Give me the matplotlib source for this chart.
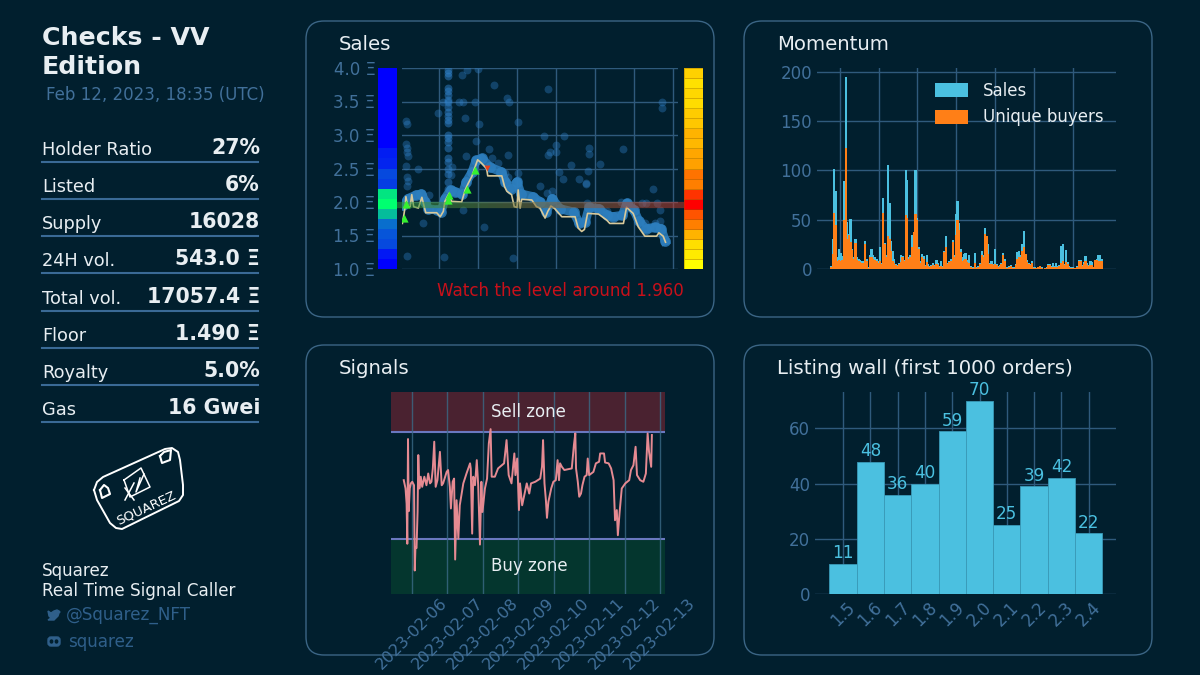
import numpy as np
import matplotlib
matplotlib.use("Agg")
import matplotlib.pyplot as plt
from matplotlib.patches import FancyBboxPatch, Polygon, Ellipse
from matplotlib.colors import LinearSegmentedColormap

BG = "#011f2e"
EDGE = "#3b6585"
GRID = "#2f5a7c"
TICK = "#41709a"
WHITE = "#e8eef2"
CYAN = "#4bc0e0"
ORANGE = "#ff7f17"

# sidebar
stat_names = ["Holder Ratio", "Listed", "Supply", "24H vol.", "Total vol.", "Floor", "Royalty", "Gas"]
stat_values = ["27%", "6%", "16028", "543.0 Ξ", "17057.4 Ξ", "1.490 Ξ", "5.0%", "16 Gwei"]

# sales panel, x is the day of february
price_days = [5.06, 5.09, 5.13, 5.15, 5.20, 5.26, 5.30, 5.35, 5.47, 5.56, 5.62, 5.66, 5.94, 6.03, 6.11, 6.15,
              6.26, 6.32, 6.58, 6.67, 6.75, 6.84, 6.91, 6.99, 7.09, 7.22, 7.25, 7.61, 7.68, 7.74, 7.86, 7.93,
              8.00, 8.03, 8.08, 8.12, 8.38, 8.50, 8.59, 8.72, 8.79, 8.87, 8.97, 9.15, 9.49, 9.57, 9.66, 9.73,
              9.81, 10.09, 10.30, 10.38, 10.73, 10.81, 10.98, 11.11, 11.28, 11.58, 11.64, 11.75, 11.81]
price_vals = [1.68, 1.78, 1.93, 2.08, 1.93, 1.93, 2.11, 1.93, 1.91, 2.07, 1.93, 1.84, 1.84, 1.78, 1.86, 2.01,
              2.13, 2.01, 2.00, 2.18, 2.28, 2.38, 2.50, 2.63, 2.58, 2.50, 2.39, 2.39, 2.23, 2.16, 2.11, 1.93,
              1.92, 2.18, 1.91, 2.04, 2.03, 1.93, 1.91, 1.76, 1.86, 1.94, 1.90, 1.78, 1.78, 1.61, 1.56, 1.59,
              1.83, 1.82, 1.73, 1.68, 1.68, 1.92, 1.83, 1.63, 1.49, 1.49, 1.54, 1.49, 1.40]

band_days = [5.08, 5.2, 5.4, 5.55, 5.65, 5.72, 5.95, 6.05, 6.15, 6.3, 6.4, 6.6, 6.7, 6.85, 6.95, 7.1, 7.3, 7.6, 7.7,
             7.85, 8.0, 8.1, 8.4, 8.6, 8.75, 8.9, 9.1, 9.45, 9.6, 9.75, 9.85, 10.1, 10.3, 10.45, 10.7, 10.82, 11.0,
             11.12, 11.3, 11.55, 11.7, 11.8]
band_vals = [1.95, 2.05, 2.1, 2.12, 2.0, 1.90, 1.88, 1.85, 2.05, 2.18, 2.15, 2.12, 2.3, 2.45, 2.62, 2.65, 2.52, 2.45,
             2.3, 2.2, 2.3, 2.12, 2.08, 2.0, 1.85, 2.05, 1.9, 1.85, 1.68, 1.7, 1.92, 1.9, 1.8, 1.78, 1.8, 1.98, 1.88,
             1.72, 1.6, 1.62, 1.6, 1.42]

# the tall column of sales around 6.24
column_vals = [3.97, 3.93, 3.88, 3.70, 3.65, 3.60, 3.52, 3.50, 3.42, 3.35, 3.28, 3.22, 3.18, 3.0, 2.95, 2.9, 2.8,
               2.65, 2.6, 2.5, 2.42, 2.3, 2.2]
sale_days = [6.71, 6.58, 7.01, 7.41, 7.74, 7.79, 6.5, 6.62, 6.92, 6.09, 5.97, 6.67, 7.03, 8.02, 5.15, 5.18, 5.15,
             5.17, 5.18, 5.21, 5.15, 5.47, 5.17, 6.96, 7.28, 6.7, 7.77, 8.8, 8.7, 9.2, 9.0, 8.99, 8.85, 8.79, 9.85,
             9.85, 9.38, 10.12, 9.83, 9.09, 9.17, 9.6, 9.76, 9.77, 10.73, 11.73, 11.73, 8.59, 11.48, 5.73, 5.6, 6.61,
             7.15, 5.17, 6.13, 7.91, 11.2, 11.32, 11.6, 11.67, 10.3, 9.8, 8.03, 8.03, 8.03, 7.37, 7.5, 7.69, 7.77, 6.3,
             6.32, 5.17, 5.2, 11.54, 11.29, 11.66, 11.42, 8.76, 8.89, 10.68, 10.81]
sale_vals = [3.97, 3.89, 3.99, 3.75, 3.55, 3.50, 3.50, 3.5, 3.5, 3.5, 3.33, 3.26, 3.16, 3.2, 3.21, 3.16, 2.87,
             2.8, 2.75, 2.69, 2.53, 2.5, 2.38, 2.91, 2.79, 2.69, 2.7, 3.68, 2.98, 2.98, 2.85, 2.75, 2.75, 2.7, 2.8,
             2.71, 2.55, 2.57, 2.47, 2.45, 2.34, 2.34, 2.29, 2.27, 2.79, 3.5, 3.4, 2.24, 2.19, 2.11, 1.68, 1.88,
             1.63, 1.19, 1.18, 1.17, 1.98, 1.98, 1.98, 1.88, 1.86, 1.98, 2.33, 2.43, 2.23, 2.65, 2.58, 2.43, 2.38, 2.4,
             2.52, 2.24, 2.31, 1.68, 1.68, 1.71, 1.62, 2.13, 2.16, 2.0, 2.0]

buy_days = [5.10, 5.15, 6.26, 6.24, 6.72, 6.92]
buy_vals = [1.76, 1.97, 2.11, 2.03, 2.2, 2.48]
sell_days = [7.22]
sell_vals = [2.51]
level = 1.96

# side strips, bottom row first
strip_left = [0, 0.1, 0.3, 0.35, 0.45, 0.75, 1, 0.9, 0.25, 0.3, 0.15, 0.12, 0, 0, 0, 0, 0, 0, 0, 0]
strip_right = [0, 0.08, 0.13, 0.3, 0.5, 0.67, 1, 0.8, 0.5, 0.55, 0.37, 0.35, 0.28, 0.3, 0.22, 0.2, 0.14, 0.16, 0.12, 0.18]

# momentum, one bar per hour
sales_hourly = [3, 30, 101, 79, 12, 20, 16, 13, 89, 195,
                48, 36, 51, 20, 12, 30, 12, 10, 9, 8,
                8, 28, 10, 2, 14, 20, 14, 12, 10, 8,
                22, 6, 72, 26, 14, 106, 67, 28, 18, 10,
                5, 4, 6, 14, 13, 9, 100, 90, 12, 14,
                35, 38, 100, 52, 22, 8, 15, 13, 4, 14,
                5, 3, 4, 6, 4, 9, 6, 3, 8, 3,
                18, 33, 6, 8, 10, 29, 14, 56, 69, 47,
                20, 12, 15, 16, 9, 14, 3, 2, 2, 16,
                2, 3, 6, 18, 14, 42, 33, 25, 6, 8,
                5, 20, 5, 3, 4, 6, 16, 10, 2, 2,
                3, 4, 2, 2, 5, 17, 18, 14, 25, 39,
                15, 9, 6, 5, 8, 2, 2, 1, 2, 3,
                2, 0, 1, 2, 5, 5, 3, 6, 3, 6,
                3, 4, 23, 25, 5, 19, 7, 3, 2, 2,
                1, 1, 3, 9, 9, 4, 7, 13, 6, 4,
                8, 7, 2, 9, 10, 14, 14, 10]
buyers_hourly = [2, 15, 57, 45, 8, 9, 8, 9, 50, 123,
                 30, 35, 27, 19, 10, 26, 9, 8, 7, 6,
                 6, 25, 8, 1, 12, 12, 10, 9, 8, 6,
                 8, 5, 57, 25, 12, 33, 30, 18, 8, 6,
                 4, 3, 5, 7, 12, 8, 55, 52, 10, 12,
                 22, 38, 56, 50, 20, 6, 12, 10, 3, 7,
                 3, 2, 3, 4, 3, 5, 4, 2, 3, 2,
                 17, 22, 5, 7, 8, 27, 12, 35, 50, 40,
                 17, 8, 9, 10, 7, 6, 2, 1, 1, 6,
                 1, 2, 5, 14, 12, 36, 33, 15, 5, 5,
                 4, 5, 4, 2, 3, 5, 14, 8, 1, 1,
                 2, 3, 1, 1, 4, 10, 12, 12, 18, 22,
                 15, 7, 5, 4, 6, 1, 1, 1, 2, 3,
                 1, 0, 1, 1, 4, 4, 2, 2, 2, 2,
                 2, 3, 6, 8, 4, 7, 5, 2, 1, 1,
                 1, 1, 2, 8, 8, 3, 5, 8, 4, 3,
                 4, 4, 2, 9, 9, 8, 8, 8]

# signals
rsi_days = [5.77, 5.82, 5.85, 5.87, 5.89, 5.91, 5.94, 5.97, 6.01, 6.06, 6.08, 6.10, 6.13, 6.16, 6.18, 6.21, 6.25, 6.29,
            6.35, 6.41, 6.46, 6.51, 6.55, 6.59, 6.63, 6.67, 6.72, 6.79, 6.84, 6.88, 6.98, 7.02, 7.07, 7.10, 7.15, 7.19,
            7.22, 7.26, 7.31, 7.35, 7.45, 7.54, 7.64, 7.66, 7.70, 7.73, 7.78, 7.83, 7.87, 7.92, 7.96, 7.99, 8.06, 8.12,
            8.17, 8.22, 8.25, 8.34, 8.43, 8.60, 8.67, 8.73, 8.81, 8.89, 8.92, 8.97, 9.02, 9.05, 9.11, 9.19, 9.24, 9.31,
            9.36, 9.48, 9.62, 9.67, 9.70, 9.74, 9.78, 9.81, 9.85, 9.93, 9.99, 10.06, 10.11, 10.15, 10.18, 10.23, 10.30,
            10.51, 10.57, 10.61, 10.63, 10.68, 10.72, 10.77, 10.81, 10.87, 10.93, 10.96, 11.00, 11.12, 11.19, 11.28,
            11.31, 11.42, 11.45, 11.55, 11.62, 11.69, 11.73, 11.78, 11.81, 11.86, 11.92, 12.02, 12.13, 12.18, 12.25,
            12.31, 12.35, 12.44, 12.53, 12.60, 12.65, 12.69, 12.75, 12.77]
rsi_vals = [52, 48.9, 43.2, 28.2, 67.4, 40.4, 48.9, 50.8, 51.4, 50.1, 18.2, 27, 26.6, 40.1, 61.4, 48.9, 53.3, 49.5,
            53.3, 50.1, 54.5, 50.8, 51.4, 56.4, 66.4, 49.5, 52, 62.6, 50.1, 50.8, 55.1, 55.8, 49.5, 41.4, 51.4, 52.6,
            22.3, 44.5, 30.1, 42.6, 50.8, 54.5, 58.3, 56.4, 32, 53.3, 50.1, 59.5, 50.1, 27.9, 51.4, 40.1, 48.9, 52.6,
            65.8, 71.1, 53.3, 53.3, 56.4, 58.3, 67, 53.9, 50.8, 62, 53.9, 60.1, 40.8, 50.8, 42.6, 47.6, 50.8, 47,
            50.8, 51.4, 52.6, 57, 67, 50.8, 44.5, 37.9, 43.9, 48.9, 51.4, 52, 59.5, 52, 58.3, 57, 55.8,
            56.4, 65.1, 69.5, 56.4, 51.4, 45.8, 47, 50.1, 53.3, 53.9, 60.1, 53.9, 55.1, 58.3, 58.9,
            62, 62, 58.6, 58.3, 56.4, 52, 37, 40.8, 31.4, 40.1, 48.9, 50.8, 52, 55.8, 57.6,
            64.5, 53.9, 52, 51.4, 54.5, 69.5, 62.6, 57, 68.9]
date_labels = ["2023-02-06", "2023-02-07", "2023-02-08", "2023-02-09", "2023-02-10", "2023-02-11", "2023-02-12", "2023-02-13"]
date_ticks = [6, 7, 8, 9, 10, 11, 12, 13]

# listing wall
wall_prices = [1.5, 1.6, 1.7, 1.8, 1.9, 2.0, 2.1, 2.2, 2.3, 2.4]
wall_counts = [11, 48, 36, 40, 59, 70, 25, 39, 42, 22]


def px_axes(left, top, right, bottom, **kw):
    # axes from pixel edges of the 1200x675 picture
    return fig.add_axes([left / 1200, 1 - bottom / 675, (right - left) / 1200, (bottom - top) / 675], **kw)


def clean(ax):
    ax.patch.set_visible(False)
    for s in ax.spines.values():
        s.set_visible(False)
    ax.grid(True, color=GRID, linewidth=1)
    ax.set_axisbelow(True)
    ax.tick_params(length=0, labelcolor=TICK, labelsize=12)


plt.rcParams["font.family"] = "DejaVu Sans"
fig = plt.figure(figsize=(12, 6.75), dpi=100, facecolor=BG)

# overlay in pixel coordinates for the boxes, sidebar text and logo
bg = fig.add_axes([0, 0, 1, 1], zorder=-1)
bg.set_xlim(0, 1200)
bg.set_ylim(675, 0)
bg.axis("off")

for x, y, h in [(306, 21, 296), (744, 21, 296), (306, 345, 310), (744, 345, 310)]:
    bg.add_patch(FancyBboxPatch((x, y), 408, h, boxstyle="round,pad=0,rounding_size=18",
                                facecolor="none", edgecolor=EDGE, linewidth=1))

bg.text(339, 44, "Sales", color=WHITE, fontsize=14.2, va="center")
bg.text(777, 44, "Momentum", color=WHITE, fontsize=14.2, va="center")
bg.text(339, 368, "Signals", color=WHITE, fontsize=14.2, va="center")
bg.text(777, 368, "Listing wall (first 1000 orders)", color=WHITE, fontsize=14.2, va="center")
bg.text(437, 291, "Watch the level around 1.960", color="#c8101a", fontsize=12.1, va="center")

bg.text(42, 38, "Checks - VV", color=WHITE, fontsize=18.2, fontweight="bold", va="center")
bg.text(42, 67, "Edition", color=WHITE, fontsize=18.2, fontweight="bold", va="center")
bg.text(46, 95, "Feb 12, 2023, 18:35 (UTC)", color=TICK, fontsize=12, va="center")

for i, (name, val) in enumerate(zip(stat_names, stat_values)):
    y = 162 + i * 37.15
    bg.plot([42, 258], [y, y], color="#3a6a96", linewidth=1.5)
    bg.text(42, y - 12, name, color=WHITE, fontsize=12.8, va="center")
    bg.text(260, y - 14, val, color=WHITE, fontsize=14.8, fontweight="bold", va="center", ha="right")

# hand drawn logo
bg.plot([94, 97, 103, 165, 172, 178, 180, 183, 183, 179, 122, 116, 110, 97, 94],
        [490, 482, 477, 449, 448, 452, 460, 485, 495, 501, 529, 528, 523, 500, 490],
        color="white", linewidth=1.4)
bg.plot([124, 141, 150, 130, 124], [480, 468, 487, 497, 480], color="white", linewidth=1.1)
bg.plot([125, 134], [488, 500], color="white", linewidth=1.1)
bg.plot([134, 125], [483, 500], color="white", linewidth=1.1)
bg.plot([140, 136, 144], [478, 492, 474], color="white", linewidth=1.1)
bg.plot([100, 104, 108, 110, 102, 100], [490, 485, 488, 494, 498, 490], color="white", linewidth=1.5)
bg.plot([160, 164, 171, 170, 162, 160], [456, 452, 450, 460, 463, 456], color="white", linewidth=1.5)
bg.text(146, 508, "SQUAREZ", color="white", fontsize=9.5, rotation=25, ha="center", va="center")

bg.text(42, 571, "Squarez", color=WHITE, fontsize=12.1, va="center")
bg.text(42, 591, "Real Time Signal Caller", color=WHITE, fontsize=12.1, va="center")
bg.text(66, 615, "@Squarez_NFT", color="#2f5f8a", fontsize=12.1, va="center")
bg.text(68, 642, "squarez", color="#2f5f8a", fontsize=12.1, va="center")

# twitter and discord icons, just rough shapes
bg.add_patch(Polygon([(48, 611), (51, 613), (54, 611), (57, 610), (59, 611), (60, 612), (59, 613), (58, 616),
                      (54, 620), (48, 620), (51, 618), (49, 616)], color="#2f5f8a"))
bg.add_patch(FancyBboxPatch((48, 637), 12, 9, boxstyle="round,pad=0,rounding_size=3", color="#2f5f8a"))
bg.add_patch(Ellipse((51.5, 641.5), 2.4, 3, color=BG))
bg.add_patch(Ellipse((56.5, 641.5), 2.4, 3, color=BG))

# sales
ax = px_axes(402, 68, 678, 269)
clean(ax)
ax.set_xlim(5.05, 12.13)
ax.set_ylim(1, 4)
ax.set_xticks(range(6, 13))
ax.set_xticklabels([])
ax.set_yticks([1, 1.5, 2, 2.5, 3, 3.5, 4])
ax.set_yticklabels(["1.0 Ξ", "1.5 Ξ", "2.0 Ξ", "2.5 Ξ", "3.0 Ξ", "3.5 Ξ", "4.0 Ξ"])
ax.tick_params(axis="y", pad=19)
ax.plot(band_days, band_vals, color="#2d7fbf", linewidth=6.5, alpha=0.85, solid_joinstyle="round")
ax.scatter(band_days, band_vals, s=60, color="#2d7fbf", alpha=0.8, linewidths=0)
ax.scatter([6.24] * len(column_vals), column_vals, s=32, color="#2f80c8", alpha=0.5, linewidths=0)
ax.scatter(sale_days, sale_vals, s=32, color="#2f80c8", alpha=0.38, linewidths=0)
ax.plot(price_days, price_vals, color="#d9c99a", linewidth=1.2)
ax.scatter(buy_days, buy_vals, marker="^", s=35, color="#35f030", linewidths=0, zorder=4)
ax.scatter(sell_days, sell_vals, marker="v", s=18, color="#e8401c", linewidths=0, zorder=4)
# level line fades from green to red and runs over the strips
level_cmap = LinearSegmentedColormap.from_list("lv", ["#2f9a3a", "#7a6a3a", "#c0392b"])
level_x = np.linspace(4.82, 12.33, 41)
for i in range(40):
    ax.plot(level_x[i:i + 2], [level, level], color=level_cmap(i / 39), linewidth=4.5, alpha=0.55,
            solid_capstyle="butt", clip_on=False, zorder=3)

cm_left = LinearSegmentedColormap.from_list("sl", ["#0000ff", "#0a7ac8", "#00ff70"])
edges = np.linspace(1, 4, 21)
st = px_axes(378, 68, 397, 269, zorder=0)
st.pcolormesh([0, 1], edges, np.array(strip_left).reshape(-1, 1), cmap=cm_left, vmin=0, vmax=1)
st.axis("off")
st = px_axes(684, 68, 703, 269, zorder=0)
st.pcolormesh([0, 1], edges, np.array(strip_right).reshape(-1, 1), cmap="autumn_r", vmin=0, vmax=1,
              edgecolors=(0.55, 0.35, 0, 0.35), linewidth=0.5)
st.axis("off")

# momentum
ax = px_axes(817, 68, 1116, 269)
clean(ax)
hours = np.arange(len(sales_hourly))
ax.bar(hours, sales_hourly, width=1.4, align="edge", color=CYAN, label="Sales")
ax.bar(hours, buyers_hourly, width=1.4, align="edge", color=ORANGE, label="Unique buyers")
ax.set_xlim(-8, 176.5)
ax.set_ylim(0, 204)
ax.set_xticks(range(6, 170, 24))
ax.set_xticklabels([])
ax.set_yticks([0, 50, 100, 150, 200])
ax.legend(loc="upper left", bbox_to_anchor=(0.395, 0.93), frameon=False, fontsize=12, labelcolor=WHITE,
          handlelength=2, handleheight=0.9, handletextpad=0.85, labelspacing=0.5, borderpad=0, borderaxespad=0)

# signals
ax = px_axes(391, 392, 665, 594)
clean(ax)
ax.grid(False, axis="y")
ax.set_xlim(5.41, 13.14)
ax.set_ylim(9.4, 85)
ax.axhspan(70, 85, color="#4a2230", linewidth=0, zorder=0)
ax.axhspan(9.4, 30, color="#04362e", linewidth=0, zorder=0)
ax.set_axisbelow(False)
ax.xaxis.grid(True, color="#3a6a86", linewidth=1, alpha=0.8)
ax.axhline(70, color="#6a78c0", linewidth=1.5)
ax.axhline(30, color="#6a78c0", linewidth=1.5)
ax.plot(rsi_days, rsi_vals, color="#e58a92", linewidth=1.4, zorder=4)
ax.set_xticks(date_ticks)
ax.set_xticklabels(date_labels, rotation=45, ha="center", fontsize=11.6)
ax.tick_params(axis="x", pad=1)
ax.set_yticks([])
ax.text(9.3, 77.7, "Sell zone", color=WHITE, fontsize=12, ha="center", va="center", zorder=5)
ax.text(9.3, 19.9, "Buy zone", color=WHITE, fontsize=12, ha="center", va="center", zorder=5)

# listing wall
ax = px_axes(815, 392, 1116, 594)
clean(ax)
ax.bar(wall_prices, wall_counts, width=0.1, color=CYAN, edgecolor="#3a9ab8", linewidth=0.6)
ax.set_xlim(1.397, 2.5)
ax.set_ylim(0, 73.2)
ax.set_xticks(wall_prices)
ax.set_xticklabels([f"{p:.1f}" for p in wall_prices], rotation=45)
ax.set_yticks([0, 20, 40, 60])
for p, c in zip(wall_prices, wall_counts):
    ax.text(p, c + 0.6, str(c), color=CYAN, fontsize=12.2, ha="center", va="bottom", clip_on=False)

fig.savefig("out.png", dpi=100, facecolor=BG)
